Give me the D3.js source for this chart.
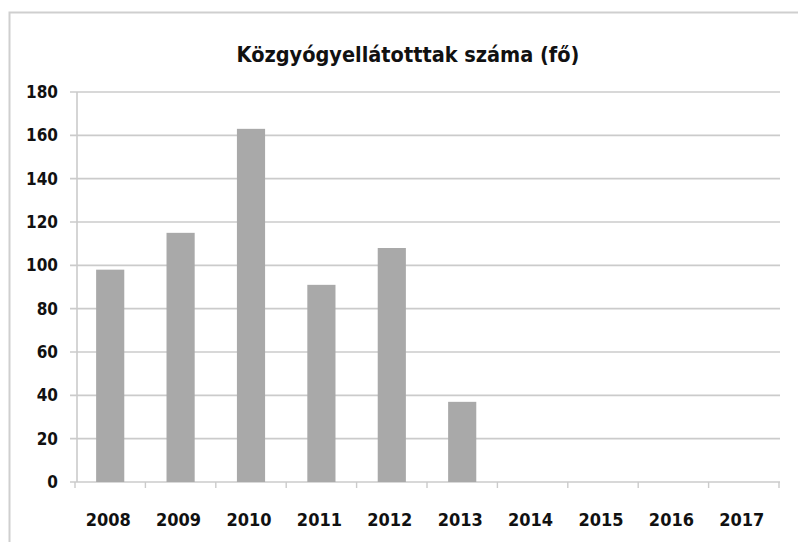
<!DOCTYPE html>
<html>
<head>
<meta charset="utf-8">
<script src="https://cdn.jsdelivr.net/npm/d3@7"></script>
<style>
  body { margin: 0; background: #fff; }
  text { font-family: "DejaVu Sans Condensed", "DejaVu Sans", sans-serif; font-weight: bold; fill: #111; }
</style>
</head>
<body>
<svg id="chart" width="798" height="542"></svg>
<script>
// data
const years = ["2008", "2009", "2010", "2011", "2012", "2013", "2014", "2015", "2016", "2017"];
const counts = [98, 115, 163, 91, 108, 37, null, null, null, null];
const yTicks = [0, 20, 40, 60, 80, 100, 120, 140, 160, 180];
const title = "Közgyógyellátotttak száma (fő)";

const svg = d3.select("#chart");

// outer chart frame (only left and top edges show in the scan)
svg.append("path")
  .attr("d", "M9.5,542 V12.5 H798")
  .attr("fill", "none")
  .attr("stroke", "#cfcfcf")
  .attr("stroke-width", 2);

const x = d3.scaleBand()
  .domain(years)
  .range([75, 779])
  .paddingInner(0.6)
  .paddingOuter(0.3);

const y = d3.scaleLinear()
  .domain([0, 180])
  .range([482, 92]);

// gridlines
svg.append("g")
  .selectAll("line")
  .data(yTicks)
  .enter().append("line")
  .attr("x1", 70)
  .attr("x2", 780)
  .attr("y1", d => y(d))
  .attr("y2", d => y(d))
  .attr("stroke", "#cbcbcb")
  .attr("stroke-width", 1.6);

// y axis line
svg.append("line")
  .attr("x1", 77).attr("x2", 77)
  .attr("y1", y(180)).attr("y2", y(0))
  .attr("stroke", "#cbcbcb")
  .attr("stroke-width", 1.6);

// x axis ticks at category boundaries
const bounds = d3.range(years.length + 1).map(i => 75 + i * (779 - 75) / years.length);
svg.append("g")
  .selectAll("line")
  .data(bounds)
  .enter().append("line")
  .attr("x1", d => d).attr("x2", d => d)
  .attr("y1", 482).attr("y2", 488)
  .attr("stroke", "#cbcbcb")
  .attr("stroke-width", 1.4);

// bars
svg.append("g")
  .selectAll("rect")
  .data(years.map((yr, i) => ({ yr, v: counts[i] })).filter(d => d.v != null))
  .enter().append("rect")
  .attr("x", d => x(d.yr))
  .attr("width", x.bandwidth())
  .attr("y", d => y(d.v))
  .attr("height", d => y(0) - y(d.v))
  .attr("fill", "#a9a9a9");

// y labels
svg.append("g")
  .selectAll("text")
  .data(yTicks)
  .enter().append("text")
  .attr("x", 58)
  .attr("y", d => y(d))
  .attr("dy", "0.36em")
  .attr("text-anchor", "end")
  .style("font-size", "17px")
  .text(d => d);

// x labels
svg.append("g")
  .selectAll("text")
  .data(years)
  .enter().append("text")
  .attr("x", d => x(d) + x.bandwidth() / 2 - 2)
  .attr("y", 526)
  .attr("text-anchor", "middle")
  .style("font-size", "18px")
  .text(d => d);

// title
svg.append("text")
  .attr("x", 408)
  .attr("y", 62)
  .attr("text-anchor", "middle")
  .style("font-size", "21.5px")
  .text(title);
</script>
</body>
</html>
